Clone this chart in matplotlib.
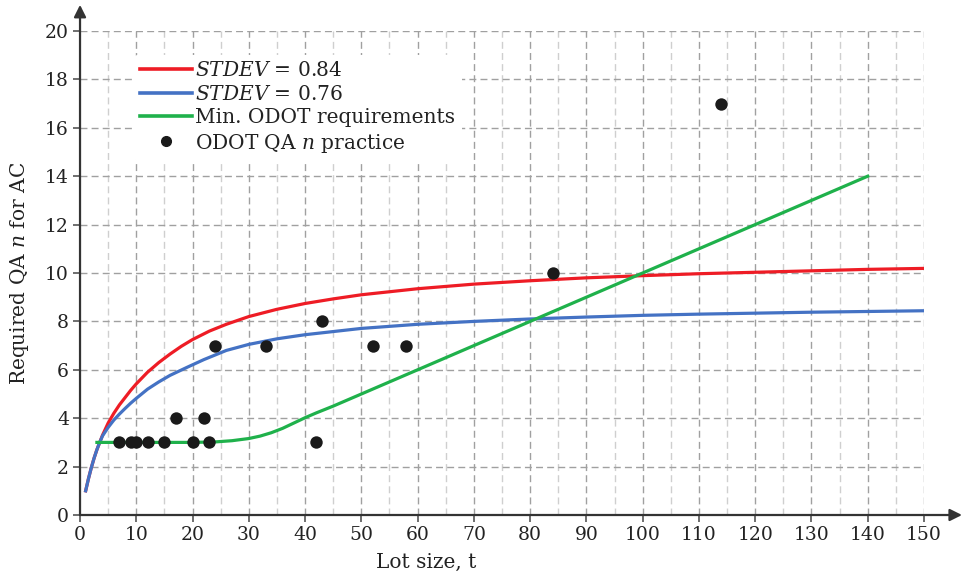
import matplotlib
matplotlib.use('Agg')
import matplotlib.pyplot as plt
from matplotlib.lines import Line2D

# Data
red_x = [1, 1.5, 2, 2.5, 3, 3.5, 4, 5, 6, 7, 8, 9, 10, 12, 14, 16, 18, 20, 23, 26, 30, 35, 40, 45, 50,
         60, 70, 80, 90, 100, 110, 120, 130, 140, 150]
red_y = [1.0, 1.5, 1.95, 2.35, 2.7, 3.0, 3.3, 3.8, 4.2, 4.55, 4.85, 5.15, 5.42, 5.9, 6.3, 6.65, 6.97, 7.25, 7.6, 7.88, 8.2, 8.5, 8.74, 8.93, 9.1,
         9.35, 9.54, 9.68, 9.8, 9.89, 9.97, 10.03, 10.09, 10.15, 10.19]

blue_x = [1, 1.5, 2, 2.5, 3, 3.5, 4, 5, 6, 7, 8, 9, 10, 12, 14, 16, 19, 22, 26, 30, 35, 40, 50,
          60, 70, 80, 90, 100, 110, 120, 130, 140, 150]
blue_y = [1.0, 1.5, 1.95, 2.35, 2.7, 3.0, 3.27, 3.62, 3.92, 4.17, 4.4, 4.62, 4.82, 5.2, 5.5, 5.77, 6.1, 6.42, 6.8, 7.05, 7.28, 7.45, 7.71,
          7.88, 8.0, 8.1, 8.18, 8.25, 8.3, 8.34, 8.38, 8.41, 8.44]

green_x = [3, 10, 20, 24, 27, 30, 32, 34, 36, 38, 40, 42, 45, 50, 60, 80, 100, 120, 140]
green_y = [3.0, 3.0, 3.0, 3.02, 3.07, 3.16, 3.26, 3.4, 3.58, 3.8, 4.02, 4.22, 4.5, 5.0, 6.0, 8.0, 10.0, 12.0, 14.0]

odot_x = [7, 9, 10, 12, 15, 17, 20, 22, 23, 24, 33, 42, 43, 52, 58, 84, 114]
odot_y = [3, 3, 3, 3, 3, 4, 3, 4, 3, 7, 7, 3, 8, 7, 7, 10, 17]

x_ticks = list(range(0, 151, 10))
y_ticks = list(range(0, 21, 2))

plt.rcParams['font.family'] = ['DejaVu Serif']
plt.rcParams['mathtext.fontset'] = 'dejavuserif'

fig = plt.figure(figsize=(9.63, 5.76), dpi=100)
ax = fig.add_axes([0.0831, 0.1059, 0.8764, 0.8403])
ax.set_xlim(0, 150)
ax.set_ylim(0, 20)

# grid: vertical every 5 (darker at 10s), horizontal every 2
for gx in range(5, 151, 5):
    col = '#a0a0a0' if gx % 10 == 0 else '#cfcfcf'
    ax.plot([gx, gx], [0, 20], color=col, lw=1.0, ls=(0, (5, 3)), zorder=1)
for gy in range(2, 21, 2):
    ax.plot([0, 150], [gy, gy], color='#a0a0a0', lw=1.0, ls=(0, (5, 3)), zorder=1)

ax.plot(red_x, red_y, color='#ee1c25', lw=2.3, zorder=3)
ax.plot(blue_x, blue_y, color='#4472c4', lw=2.3, zorder=3)
ax.plot(green_x, green_y, color='#1fb14b', lw=2.3, zorder=3)
ax.scatter(odot_x, odot_y, s=80, color='#1a1a1a', zorder=4, linewidths=0)

# axes with arrows
for s in ax.spines.values():
    s.set_visible(False)
ax.annotate('', xy=(1.045, 0), xytext=(0, 0), xycoords='axes fraction',
            arrowprops=dict(arrowstyle='-|>', color='#333333', lw=1.6,
                            mutation_scale=18, shrinkA=0, shrinkB=0), zorder=5)
ax.annotate('', xy=(0, 1.054), xytext=(0, 0), xycoords='axes fraction',
            arrowprops=dict(arrowstyle='-|>', color='#333333', lw=1.6,
                            mutation_scale=18, shrinkA=0, shrinkB=0), zorder=5)

ax.set_xticks(x_ticks)
ax.set_yticks(y_ticks)
ax.tick_params(axis='both', direction='out', length=5, width=1.2, color='#555555',
               labelsize=13.5, labelcolor='#222222', pad=3)

ax.set_xlabel('Lot size, t', fontsize=14.5, color='#222222', labelpad=6, x=0.41)
ax.set_ylabel('Required QA $\\mathit{n}$ for AC', fontsize=14.5, color='#222222', labelpad=10)

handles = [
    Line2D([], [], color='#ee1c25', lw=2.6),
    Line2D([], [], color='#4472c4', lw=2.6),
    Line2D([], [], color='#1fb14b', lw=2.6),
    Line2D([], [], color='#1a1a1a', marker='o', ls='none', markersize=7),
]
labels = ['$\\mathit{STDEV}$ = 0.84', '$\\mathit{STDEV}$ = 0.76',
          'Min. ODOT requirements', 'ODOT QA $\\mathit{n}$ practice']
leg = ax.legend(handles, labels, loc='upper left', bbox_to_anchor=(0.064, 0.95),
                fontsize=14.5, frameon=True, facecolor='white', edgecolor='none',
                framealpha=1, handlelength=2.6, handletextpad=0.15,
                labelspacing=0.22, borderpad=0.3, borderaxespad=0)
leg.set_zorder(6)
for t in leg.get_texts():
    t.set_color('#222222')

fig.savefig('out.png', dpi=100)
